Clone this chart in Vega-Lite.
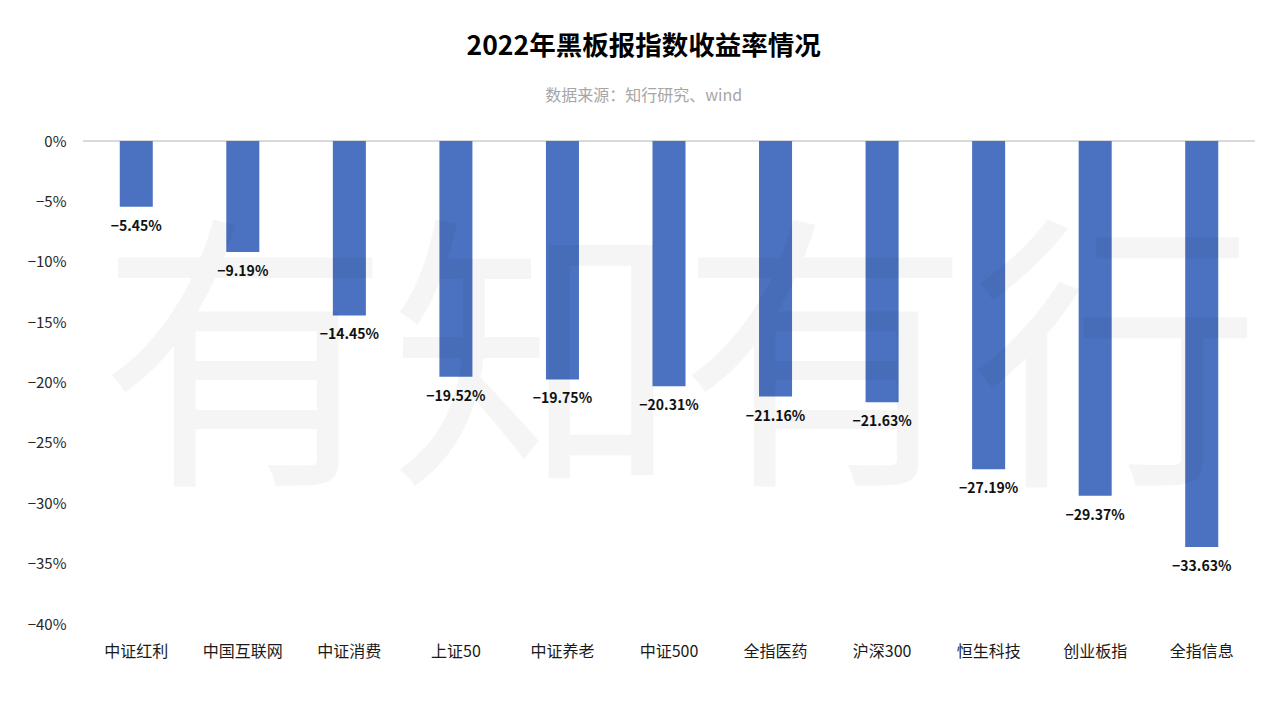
{
  "$schema": "https://vega.github.io/schema/vega-lite/v6.json",
  "width": 1172,
  "height": 483,
  "autosize": {"type": "none"},
  "padding": {"left": 83, "top": 141, "right": 25, "bottom": 81},
  "background": "white",
  "title": {
    "text": "2022年黑板报指数收益率情况",
    "subtitle": "数据来源：知行研究、wind",
    "anchor": "middle",
    "frame": "bounds",
    "font": "Noto Sans CJK SC",
    "fontSize": 26.5,
    "fontWeight": "bold",
    "color": "#000000",
    "subtitleFont": "Noto Sans CJK SC",
    "subtitleFontSize": 16,
    "subtitleColor": "#a6a6a6",
    "subtitlePadding": 28,
    "offset": 30
  },
  "config": {
    "view": {"stroke": null},
    "font": "Noto Sans CJK SC"
  },
  "data": {
    "values": [
      {"name": "中证红利", "value": -0.0545},
      {"name": "中国互联网", "value": -0.0919},
      {"name": "中证消费", "value": -0.1445},
      {"name": "上证50", "value": -0.1952},
      {"name": "中证养老", "value": -0.1975},
      {"name": "中证500", "value": -0.2031},
      {"name": "全指医药", "value": -0.2116},
      {"name": "沪深300", "value": -0.2163},
      {"name": "恒生科技", "value": -0.2719},
      {"name": "创业板指", "value": -0.2937},
      {"name": "全指信息", "value": -0.3363}
    ]
  },
  "layer": [
    {
      "mark": {"type": "rule", "color": "#d9d9d9", "strokeWidth": 2},
      "encoding": {"y": {"datum": 0, "type": "quantitative"}}
    },
    {
      "mark": {"type": "bar", "color": "#4a72c0"},
      "encoding": {
        "x": {
          "field": "name",
          "type": "nominal",
          "sort": null,
          "scale": {"paddingInner": 0.69, "paddingOuter": 0.345},
          "axis": {
            "title": null,
            "labelAngle": 0,
            "ticks": false,
            "domain": false,
            "labelFontSize": 16,
            "labelColor": "#1a1a1a",
            "labelPadding": 19
          }
        },
        "y": {
          "field": "value",
          "type": "quantitative",
          "scale": {"domain": [-0.4, 0], "nice": false, "zero": false},
          "axis": {
            "title": null,
            "format": "%",
            "values": [0, -0.05, -0.1, -0.15, -0.2, -0.25, -0.3, -0.35, -0.4],
            "grid": false,
            "ticks": false,
            "domain": false,
            "labelFontSize": 15,
            "labelColor": "#262626",
            "labelPadding": 17
          }
        }
      }
    },
    {
      "mark": {"type": "text", "dy": 20, "baseline": "middle", "fontSize": 14, "fontWeight": "bold", "color": "#111111"},
      "encoding": {
        "x": {"field": "name", "type": "nominal", "sort": null},
        "y": {"field": "value", "type": "quantitative"},
        "text": {"field": "value", "type": "quantitative", "format": ".2%"}
      }
    },
    {
      "data": {"values": [{"wm": "有知有行"}]},
      "mark": {"type": "text", "fontSize": 290, "fontWeight": "normal", "color": "#000000", "opacity": 0.035, "baseline": "middle", "align": "center", "dx": 11},
      "encoding": {
        "x": {"datum": "中证500", "type": "nominal"},
        "y": {"datum": -0.195, "type": "quantitative"},
        "text": {"field": "wm", "type": "nominal"}
      }
    }
  ]
}
